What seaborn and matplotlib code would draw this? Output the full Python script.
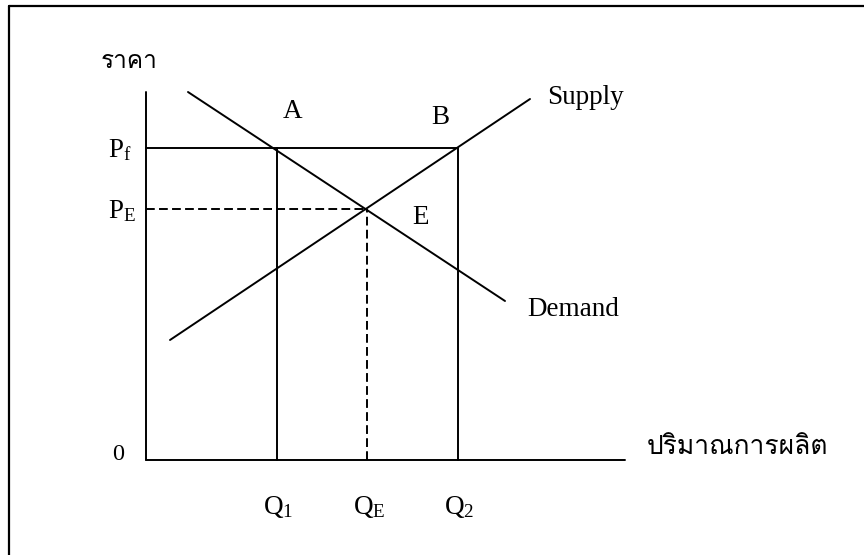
import numpy as np
import pandas as pd
import matplotlib
matplotlib.use("Agg")
import matplotlib.pyplot as plt
import seaborn as sns
from matplotlib import font_manager
from matplotlib.ft2font import FT2Font
from matplotlib.lines import Line2D

# DATA (quantity / price units of the diagram)
demand_q = [4.2, 35.9]
demand_p = [36.8, 15.9]
supply_q = [2.4, 38.4]
supply_p = [12.0, 36.1]

q_levels = [13.1, 22.1, 31.2]          # Q1, QE, Q2
q_labels = [r"$\mathrm{Q_1}$", r"$\mathrm{Q_E}$", r"$\mathrm{Q_2}$"]
p_floor = 31.2                          # Pf
p_equil = 25.1                          # PE
p_labels = [r"$\mathrm{P_f}$", r"$\mathrm{P_E}$"]
axis_q_max = 47.9
axis_p_max = 36.8

y_title = "ราคา"
x_title = "ปริมาณการผลิต"

# find a font that has Thai glyphs
thai_family = "DejaVu Sans"
for f in font_manager.fontManager.ttflist:
    try:
        if ord("ร") in FT2Font(f.fname).get_charmap():
            thai_family = f.name
            break
    except Exception:
        pass

sns.set_theme(style="white")
plt.rcParams["font.family"] = ["Liberation Serif", "DejaVu Serif"]
plt.rcParams["mathtext.fontset"] = "custom"
plt.rcParams["mathtext.rm"] = "Liberation Serif"
plt.rcParams["text.color"] = "black"

fig = plt.figure(figsize=(8.64, 5.55), dpi=100)
ax = fig.add_axes([0, 0, 1, 1])
ax.set_xlim(-14.6, 71.8)
ax.set_ylim(-9.5, 46.0)
ax.axis("off")

lw = 1.4
k = "black"
dash = (0, (4.5, 2.2))

# axes of the diagram
ax.plot([0, 0], [0, axis_p_max], color=k, lw=lw)
ax.plot([0, axis_q_max], [0, 0], color=k, lw=lw)

# demand / supply curves
curves = pd.DataFrame({"q": demand_q + supply_q, "p": demand_p + supply_p,
                       "curve": ["Demand"] * 2 + ["Supply"] * 2})
sns.lineplot(data=curves, x="q", y="p", units="curve", estimator=None,
             sort=False, color=k, lw=lw, ax=ax, legend=False)

# price floor and quantities
ax.plot([0, q_levels[2]], [p_floor, p_floor], color=k, lw=lw)
ax.plot([q_levels[0], q_levels[0]], [0, p_floor], color=k, lw=lw)
ax.plot([q_levels[2], q_levels[2]], [0, p_floor], color=k, lw=lw)
ax.plot([0, q_levels[1]], [p_equil, p_equil], color=k, lw=lw, linestyle=dash)
ax.plot([q_levels[1], q_levels[1]], [0, p_equil], color=k, lw=lw, linestyle=dash)

fs = 19.5
for q, lab in zip(q_levels, q_labels):
    ax.text(q - 1.4, -5.4, lab, fontsize=fs, ha="left", va="baseline")
for p, lab in zip([p_floor, p_equil], p_labels):
    ax.text(-3.8, p - 0.9, lab, fontsize=fs, ha="left", va="baseline")
ax.text(-2.8, 0.5, "0", fontsize=fs - 2, ha="center", va="center")

ax.text(q_levels[0] + 1.6, 34.8, "A", fontsize=fs, ha="center", va="center")
ax.text(29.4, 34.2, "B", fontsize=fs, ha="center", va="center")
ax.text(27.5, 24.2, "E", fontsize=fs, ha="center", va="center")
ax.text(40.1, 36.3, "Supply", fontsize=fs, ha="left", va="center")
ax.text(38.1, 15.0, "Demand", fontsize=fs, ha="left", va="center")

ax.text(-1.7, 39.8, y_title, fontsize=17.5, ha="center", va="center",
        family=[thai_family, "DejaVu Sans"])
ax.text(50.1, 1.3, x_title, fontsize=19, ha="left", va="center",
        family=[thai_family, "DejaVu Sans"])

# outer frame (left and top edges)
fig.add_artist(Line2D([9 / 864, 9 / 864], [0, 1 - 6 / 555], color=k, lw=1.6,
                      transform=fig.transFigure))
fig.add_artist(Line2D([9 / 864, 1], [1 - 6 / 555, 1 - 6 / 555], color=k, lw=1.6,
                      transform=fig.transFigure))

fig.savefig("out.png", dpi=100)
